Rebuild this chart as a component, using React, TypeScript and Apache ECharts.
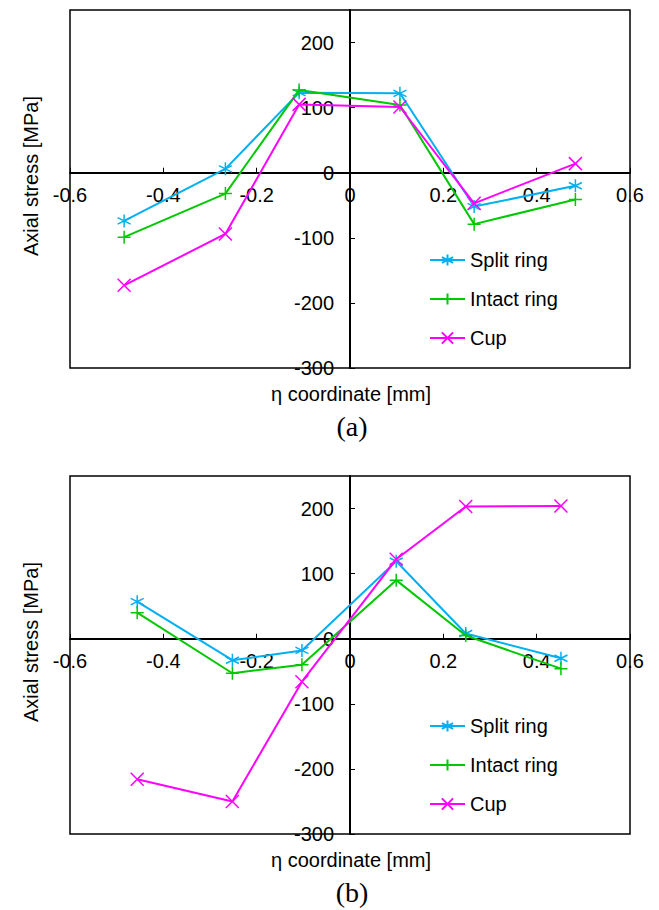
import React, { useEffect, useRef } from "react";
import * as echarts from "echarts";

// Panel (a)
const etaA = [-0.484, -0.267, -0.109, 0.107, 0.266, 0.483];
const splitA = [-74, 6, 123, 122, -52, -20];
const intactA = [-99, -32, 127, 104, -79, -41];
const cupA = [-173, -94, 105, 101, -47, 14];

// Panel (b)
const etaB = [-0.456, -0.252, -0.103, 0.099, 0.248, 0.452];
const splitB = [57, -33, -18, 119, 8, -30];
const intactB = [40, -53, -40, 90, 5, -46];
const cupB = [-216, -250, -66, 122, 203, 204];

const seriesNames = ["Split ring", "Intact ring", "Cup"];
const seriesColors = ["#00B0F0", "#00C800", "#FF00FF"];
const seriesSymbols = [
  "path://M5,0L5,10M0.67,2.5L9.33,7.5M0.67,7.5L9.33,2.5",
  "path://M5,0L5,10M0,5L10,5",
  "path://M0,0L10,10M10,0L0,10",
];

const xTitle = "η coordinate [mm]";
const yTitle = "Axial stress [MPa]";
const panelLabels = ["(a)", "(b)"];

const X_MIN = -0.6;
const X_MAX = 0.6;
const Y_MIN = -300;
const Y_MAX = 250;

const FONT = "'Liberation Sans', Arial, sans-serif";
const FS = 20;

export default function App() {
  const ref = useRef<HTMLDivElement>(null);
  useEffect(() => {
    if (!ref.current) return;
    const chart = echarts.init(ref.current, undefined, { renderer: "svg" });

    const gridTops = [10, 476];
    const gridW = 560;
    const gridH = 358;
    // place the axes on the zero lines through offsets
    const xOffset = -(gridH * (0 - Y_MIN)) / (Y_MAX - Y_MIN);
    const yOffset = -(gridW * (0 - X_MIN)) / (X_MAX - X_MIN);

    const grids = gridTops.map((t) => ({
      left: 70,
      top: t,
      width: gridW,
      height: gridH,
      show: true,
      borderColor: "#000",
      borderWidth: 1.5,
      backgroundColor: "transparent",
    }));

    const xAxes = [0, 1].map((i) => ({
      type: "value",
      gridIndex: i,
      position: "bottom",
      offset: xOffset,
      min: X_MIN,
      max: X_MAX,
      interval: 0.2,
      axisLine: { onZero: false, lineStyle: { color: "#000", width: 2 } },
      axisTick: { inside: true, length: 5, lineStyle: { color: "#000", width: 1 } },
      axisLabel: {
        fontSize: FS,
        fontFamily: FONT,
        color: "#000",
        margin: 12,
        showMinLabel: true,
        showMaxLabel: true,
        hideOverlap: false,
        formatter: (v: number) => String(Math.round(v * 10) / 10),
      },
      splitLine: { show: false },
    }));

    const yAxes = [0, 1].map((i) => ({
      type: "value",
      gridIndex: i,
      position: "left",
      offset: yOffset,
      min: Y_MIN,
      max: Y_MAX,
      interval: 100,
      axisLine: { onZero: false, lineStyle: { color: "#000", width: 2 } },
      axisTick: { inside: true, length: 5, lineStyle: { color: "#000", width: 1 } },
      axisLabel: {
        fontSize: FS,
        fontFamily: FONT,
        color: "#000",
        margin: 16,
        showMaxLabel: false,
        hideOverlap: false,
      },
      splitLine: { show: false },
    }));

    const panels = [
      { eta: etaA, vals: [splitA, intactA, cupA] },
      { eta: etaB, vals: [splitB, intactB, cupB] },
    ];

    const series: any[] = [];
    panels.forEach((p, gi) => {
      p.vals.forEach((vals, si) => {
        series.push({
          type: "line",
          name: seriesNames[si],
          xAxisIndex: gi,
          yAxisIndex: gi,
          data: p.eta.map((x, k) => [x, vals[k]]),
          symbol: seriesSymbols[si],
          symbolSize: 13,
          showAllSymbol: true,
          lineStyle: { color: seriesColors[si], width: 2 },
          itemStyle: {
            color: seriesColors[si],
            borderColor: seriesColors[si],
            borderWidth: 1.5,
          },
          emphasis: { disabled: true },
          z: 3 + si,
        });
      });
    });

    const legends = [250, 716].map((top) => ({
      data: seriesNames,
      orient: "vertical",
      left: 429,
      top,
      padding: 0,
      itemWidth: 35,
      itemHeight: 14,
      itemGap: 19,
      textStyle: { fontSize: FS, fontFamily: FONT, color: "#000", lineHeight: 20 },
      selectedMode: false,
    }));

    const graphics: any[] = [];
    [0, 466].forEach((dy, i) => {
      graphics.push({
        type: "text",
        x: 351,
        y: 394 + dy,
        style: {
          text: xTitle,
          font: `${FS}px ${FONT}`,
          fill: "#000",
          textAlign: "center",
          textVerticalAlign: "middle",
        },
      });
      graphics.push({
        type: "text",
        x: 31,
        y: 176 + dy,
        rotation: Math.PI / 2,
        style: {
          text: yTitle,
          font: `${FS}px ${FONT}`,
          fill: "#000",
          textAlign: "center",
          textVerticalAlign: "middle",
        },
      });
      graphics.push({
        type: "text",
        x: 352,
        y: 426 + dy,
        style: {
          text: panelLabels[i],
          font: `28px 'Liberation Serif', 'Times New Roman', serif`,
          fill: "#000",
          textAlign: "center",
          textVerticalAlign: "middle",
        },
      });
    });

    chart.setOption({
      animation: false,
      backgroundColor: "#fff",
      grid: grids,
      xAxis: xAxes,
      yAxis: yAxes,
      legend: legends,
      series,
      graphic: graphics,
    });

    return () => chart.dispose();
  }, []);

  return (
    <div
      ref={ref}
      style={{ position: "absolute", left: 0, top: 0, width: 659, height: 910 }}
    />
  );
}
